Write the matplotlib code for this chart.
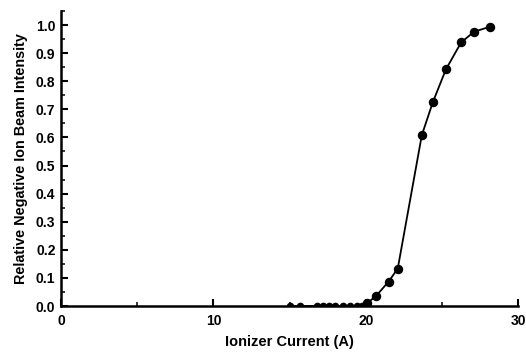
import numpy as np
import matplotlib
matplotlib.use("Agg")
import matplotlib.pyplot as plt
from matplotlib.ticker import MultipleLocator

plt.rcParams['font.family'] = ['Liberation Sans', 'DejaVu Sans']

# ionizer current (A) and relative negative ion beam intensity
current = [15.0, 15.7, 16.8, 17.2, 17.6, 18.0, 18.5, 18.95, 19.4, 19.75,
           20.1, 20.7, 21.5, 22.1, 23.68, 24.4, 25.26, 26.26, 27.1, 28.15]
intensity = [0.0, 0.0, 0.0, 0.0, 0.0, 0.0, 0.0, 0.0, 0.0, 0.0,
             0.01, 0.037, 0.087, 0.133, 0.608, 0.725, 0.842, 0.938, 0.976, 0.994]

xticks = [0, 10, 20, 30]
yticks = np.round(np.arange(0, 1.01, 0.1), 1)

fig = plt.figure(figsize=(5.26, 3.55), dpi=100)
ax = fig.add_axes([0.116, 0.138, 0.869, 0.831])

cur = np.array(current)
inten = np.array(intensity)
zero = inten == 0

ax.plot(cur, inten, color='black', lw=1.3)
# points sitting on the axis only show their upper half
ax.plot(cur[zero], inten[zero], ls='none', marker='o', ms=5.5,
        color='black', fillstyle='top', markeredgewidth=0)
ax.plot(cur[~zero], inten[~zero], ls='none', marker='o', ms=5.8,
        color='black')

ax.set_xlim(0, 30)
ax.set_ylim(0, 1.05)
ax.set_xticks(xticks)
ax.set_yticks(yticks)
ax.set_yticklabels([f'{v:.1f}' for v in yticks])
ax.xaxis.set_minor_locator(MultipleLocator(5))
ax.yaxis.set_minor_locator(MultipleLocator(0.05))

ax.spines['top'].set_visible(False)
ax.spines['right'].set_visible(False)
for s in ('left', 'bottom'):
    ax.spines[s].set_linewidth(1.8)

ax.tick_params(which='major', direction='in', length=5, width=1.5,
               labelsize=10)
ax.tick_params(axis='x', which='major', pad=6)
ax.tick_params(axis='y', which='major', pad=4)
ax.tick_params(which='minor', direction='in', length=3, width=1.1)
for lab in ax.get_xticklabels() + ax.get_yticklabels():
    lab.set_fontweight('bold')

ax.set_xlabel('Ionizer Current (A)', fontsize=10.5, fontweight='bold',
              labelpad=5)
ax.set_ylabel('Relative Negative Ion Beam Intensity', fontsize=10.4,
              fontweight='bold', labelpad=6)

fig.savefig('out.png', dpi=100)
